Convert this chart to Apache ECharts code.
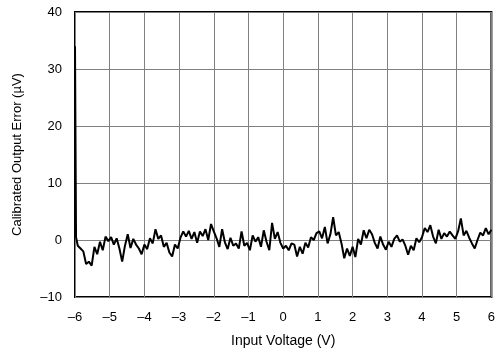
<!DOCTYPE html>
<html><head><meta charset="utf-8">
<script src="https://cdn.jsdelivr.net/npm/echarts@6/dist/echarts.min.js"></script>
<style>html,body{margin:0;padding:0;background:#fff}#c{width:498px;height:353px}</style>
</head><body><div id="c"></div>
<script>
const xTicks = [-6,-5,-4,-3,-2,-1,0,1,2,3,4,5,6];
const yTicks = [-10,0,10,20,30,40];
const voltage = [-6.00,-5.97,-5.92,-5.84,-5.76,-5.68,-5.60,-5.52,-5.44,-5.36,-5.28,-5.20,-5.12,-5.04,-4.96,-4.88,-4.80,-4.72,-4.64,-4.56,-4.48,-4.40,-4.32,-4.24,-4.16,-4.08,-4.00,-3.92,-3.84,-3.76,-3.68,-3.60,-3.52,-3.44,-3.36,-3.28,-3.20,-3.12,-3.04,-2.96,-2.88,-2.80,-2.72,-2.64,-2.56,-2.48,-2.40,-2.32,-2.24,-2.16,-2.08,-2.00,-1.92,-1.84,-1.76,-1.68,-1.60,-1.52,-1.44,-1.36,-1.28,-1.20,-1.12,-1.04,-0.96,-0.88,-0.80,-0.72,-0.64,-0.56,-0.48,-0.40,-0.32,-0.24,-0.16,-0.08,0.00,0.08,0.16,0.24,0.32,0.40,0.48,0.56,0.64,0.72,0.80,0.88,0.96,1.04,1.12,1.20,1.28,1.36,1.44,1.52,1.60,1.68,1.76,1.84,1.92,2.00,2.08,2.16,2.24,2.32,2.40,2.48,2.56,2.64,2.72,2.80,2.88,2.96,3.04,3.12,3.20,3.28,3.36,3.44,3.52,3.60,3.68,3.76,3.84,3.92,4.00,4.08,4.16,4.24,4.32,4.40,4.48,4.56,4.64,4.72,4.80,4.88,4.96,5.04,5.12,5.20,5.28,5.36,5.44,5.52,5.60,5.68,5.76,5.84,5.92,6.00];
const errorUV = [34,0.5,-1.0,-1.5,-2.0,-4.2,-3.8,-4.5,-1.2,-2.5,-0.3,-1.8,0.6,-0.2,0.5,-0.8,0.3,-1.5,-3.8,-1.0,1.0,-1.4,0.2,-0.8,-1.5,-2.5,-0.8,-1.6,0.3,-0.6,1.9,0.2,0.8,-1.2,-0.5,-2.2,-2.9,-0.8,-1.5,0.4,1.5,0.6,1.6,0.2,1.4,-0.5,1.5,0.7,1.9,0.0,2.8,1.5,0.3,-1.2,1.9,-0.4,-1.6,0.4,-1.0,-0.6,-1.5,1.5,-1.0,-0.5,-1.8,0.8,-0.3,0.5,-1.2,1.7,-0.3,-1.8,3.0,0.2,1.4,-0.5,-1.5,-1.0,-1.8,-0.6,-0.8,-2.9,-1.2,-2.4,-0.5,-1.3,0.5,0.0,1.2,1.5,0.3,2.3,-0.6,1.0,4.0,0.8,1.4,-0.6,-3.2,-1.5,-2.8,-1.2,-3.0,0.2,-0.8,1.7,0.3,1.8,1.0,-0.5,-1.5,0.6,-0.8,-1.7,-0.3,-1.2,0.2,0.8,-0.3,0.1,-1.0,-2.6,-1.0,-1.8,0.3,-0.4,0.5,2.1,1.4,2.6,0.6,-0.6,1.8,0.2,1.2,0.6,1.5,0.8,0.2,1.5,3.8,0.8,1.6,0.4,-0.6,-1.5,0.0,1.3,0.8,2.1,1.0,1.8];
const xTitle = 'Input Voltage (V)';
const yTitle = 'Calibrated Output Error (µV)';

const fmt = v => String(v).replace('-', '\u2013');
const font = {fontFamily: 'Liberation Sans', fontSize: 13, color: '#000'};
const chart = echarts.init(document.getElementById('c'), null, {renderer: 'canvas'});
chart.setOption({
  animation: false,
  backgroundColor: '#fff',
  grid: {left: 75, right: 1, top: 12, bottom: 54, show: true, borderColor: '#000', borderWidth: 2, containLabel: false},
  xAxis: {
    type: 'value', min: xTicks[0], max: xTicks[xTicks.length-1], interval: 1,
    axisLine: {show: false}, axisTick: {show: false},
    axisLabel: Object.assign({margin: 14, formatter: fmt}, font),
    splitLine: {show: true, lineStyle: {color: '#808080', width: 1}},
    name: xTitle, nameLocation: 'middle', nameGap: 37,
    nameTextStyle: Object.assign({}, font, {fontSize: 14})
  },
  yAxis: {
    type: 'value', min: yTicks[0], max: yTicks[yTicks.length-1], interval: 10,
    axisLine: {show: false}, axisTick: {show: false},
    axisLabel: Object.assign({margin: 13, formatter: fmt}, font),
    splitLine: {show: true, lineStyle: {color: '#808080', width: 1}},
    name: yTitle, nameLocation: 'middle', nameGap: 51, nameRotate: 90,
    nameTextStyle: Object.assign({}, font)
  },
  series: [{
    type: 'line', showSymbol: false, symbol: 'none',
    data: voltage.map((v, i) => [v, errorUV[i]]),
    lineStyle: {color: '#000', width: 2}, z: 5
  }]
});
</script></body></html>
